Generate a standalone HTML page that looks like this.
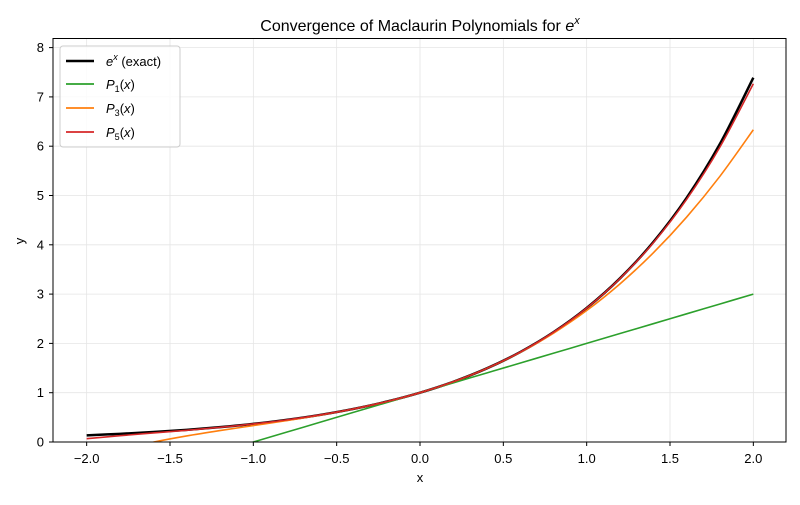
<!DOCTYPE html>
<html><head><meta charset="utf-8"><style>
body{margin:0;background:#fff;}
svg{font-family:"Liberation Sans","DejaVu Sans",sans-serif;}
</style></head><body>
<svg id="chart" width="800" height="500" viewBox="0 0 800 500" xmlns="http://www.w3.org/2000/svg">
<rect width="800" height="500" fill="#fff"/>
<defs><clipPath id="plotclip"><rect x="53" y="38.5" width="733" height="403.5"/></clipPath></defs>
<g id="grid"></g>
<g id="series" clip-path="url(#plotclip)"></g>
<rect x="53" y="38.5" width="733" height="403.5" fill="none" stroke="#000" stroke-width="1"/>
<g id="ticks"></g>
<text x="420" y="31" text-anchor="middle" font-size="16">Convergence of Maclaurin Polynomials for <tspan font-style="italic">e</tspan><tspan font-style="italic" font-size="11" dy="-7">x</tspan></text>
<text x="420" y="482" text-anchor="middle" font-size="13">x</text>
<text x="24" y="241" text-anchor="middle" font-size="13" transform="rotate(-90 24 241)">y</text>
<g>
<rect x="60" y="46" width="120" height="101" rx="3" fill="#fff" fill-opacity="0.8" stroke="#ccc"/>
<line x1="66" y1="61" x2="94" y2="61" stroke="#000" stroke-width="2.5"/>
<text x="106" y="66" font-size="13"><tspan font-style="italic">e</tspan><tspan font-style="italic" font-size="9" dy="-6">x</tspan><tspan dy="6"> (exact)</tspan></text>
<line x1="66" y1="84" x2="94" y2="84" stroke="#2ca02c" stroke-width="1.8"/>
<text x="106" y="89" font-size="13"><tspan font-style="italic">P</tspan><tspan font-size="9" dy="3">1</tspan><tspan dy="-3">(</tspan><tspan font-style="italic">x</tspan>)</text>
<line x1="66" y1="108" x2="94" y2="108" stroke="#ff7f0e" stroke-width="1.8"/>
<text x="106" y="113" font-size="13"><tspan font-style="italic">P</tspan><tspan font-size="9" dy="3">3</tspan><tspan dy="-3">(</tspan><tspan font-style="italic">x</tspan>)</text>
<line x1="66" y1="132" x2="94" y2="132" stroke="#d62728" stroke-width="1.8"/>
<text x="106" y="137" font-size="13"><tspan font-style="italic">P</tspan><tspan font-size="9" dy="3">5</tspan><tspan dy="-3">(</tspan><tspan font-style="italic">x</tspan>)</text>
</g>
</svg>
<script>
const xValues=[-2,-1.8,-1.6,-1.4,-1.2,-1,-0.8,-0.6,-0.4,-0.2,0,0.2,0.4,0.6,0.8,1,1.2,1.4,1.6,1.8,2];
const expValues=[0.1353,0.1653,0.2019,0.2466,0.3012,0.3679,0.4493,0.5488,0.6703,0.8187,1,1.2214,1.4918,1.8221,2.2255,2.7183,3.3201,4.0552,4.9530,6.0496,7.3891];
const p1Values=[-1,-0.8,-0.6,-0.4,-0.2,0,0.2,0.4,0.6,0.8,1,1.2,1.4,1.6,1.8,2,2.2,2.4,2.6,2.8,3];
const p3Values=[-0.3333,-0.152,-0.0027,0.1227,0.232,0.3333,0.4347,0.544,0.6693,0.8187,1,1.2213,1.4907,1.816,2.2053,2.6667,3.208,3.8373,4.5627,5.392,6.3333];
const p5Values=[0.0667,0.1279,0.183,0.238,0.2977,0.3667,0.449,0.5488,0.6703,0.8187,1,1.2214,1.4918,1.8221,2.2251,2.7167,3.3151,4.0422,4.9232,5.9869,7.2667];
const xTicks=[-2.0,-1.5,-1.0,-0.5,0.0,0.5,1.0,1.5,2.0];
const yTicks=[0,1,2,3,4,5,6,7,8];
const NS="http://www.w3.org/2000/svg";
function sx(v){return 420+v*166.67;}
function sy(v){return 442-v*49.3;}
const grid=document.getElementById('grid'),ticks=document.getElementById('ticks'),series=document.getElementById('series');
function mk(tag,attrs,parent){const e=document.createElementNS(NS,tag);for(const k in attrs)e.setAttribute(k,attrs[k]);parent.appendChild(e);return e;}
xTicks.forEach(t=>{
  const g=mk('line',{x1:sx(t),x2:sx(t),y1:38.5,y2:442,stroke:'#e5e5e5','stroke-width':0.8},grid);
  
  
  const tk=mk('line',{x1:sx(t),x2:sx(t),y1:442,y2:446,stroke:'#000'},ticks);
  
  
  const lb=mk('text',{x:sx(t),y:463,'text-anchor':'middle','font-size':13},ticks);
  
  
  lb.textContent=(t<0?'\u2212':'')+Math.abs(t).toFixed(1);
});
yTicks.forEach(t=>{
  const g=mk('line',{x1:53,x2:786,y1:sy(t),y2:sy(t),stroke:'#e5e5e5','stroke-width':0.8},grid);
  
  
  const tk=mk('line',{x1:49,x2:53,y1:sy(t),y2:sy(t),stroke:'#000'},ticks);
  
  
  const lb=mk('text',{x:44,y:sy(t)+4.5,'text-anchor':'end','font-size':13},ticks);
  
  
  lb.textContent=String(t);
});
function pathFor(ys){
  const p=xValues.map((x,i)=>[sx(x),sy(ys[i])]);
  let d='M'+p[0][0]+','+p[0][1];
  for(let i=0;i<p.length-1;i++){
    const p0=p[Math.max(0,i-1)],p1=p[i],p2=p[i+1],p3=p[Math.min(p.length-1,i+2)];
    const c1x=p1[0]+(p2[0]-p0[0])/6,c1y=p1[1]+(p2[1]-p0[1])/6;
    const c2x=p2[0]-(p3[0]-p1[0])/6,c2y=p2[1]-(p3[1]-p1[1])/6;
    d+=' C'+c1x+','+c1y+' '+c2x+','+c2y+' '+p2[0]+','+p2[1];
  }
  return d;
}
const e1=mk('path',{d:pathFor(expValues),fill:'none',stroke:'#000','stroke-width':2.5},series);


const e2=mk('path',{d:pathFor(p1Values),fill:'none',stroke:'#2ca02c','stroke-width':1.6},series);


const e3=mk('path',{d:pathFor(p3Values),fill:'none',stroke:'#ff7f0e','stroke-width':1.6},series);


const e4=mk('path',{d:pathFor(p5Values),fill:'none',stroke:'#d62728','stroke-width':1.6},series);


</script>
</body></html>
